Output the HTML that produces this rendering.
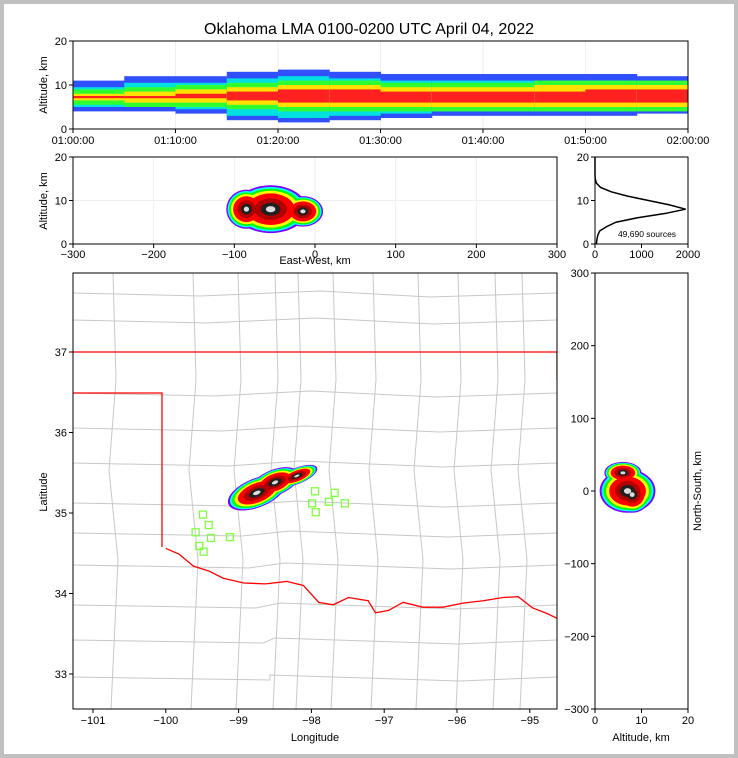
<!DOCTYPE html>
<html><head><meta charset="utf-8"><style>
html,body{margin:0;padding:0;background:#c0c0c0;}
#frame{position:absolute;left:4px;top:4px;width:730px;height:750px;background:#fff;}
svg{position:absolute;left:0;top:0;font-family:"Liberation Sans",sans-serif;}
</style></head><body>
<div id="frame"></div>
<svg id="s" width="738" height="758">
<defs>
<clipPath id="cTop"><rect x="73" y="41" width="615" height="88"/></clipPath>
<clipPath id="cEW"><rect x="73" y="157" width="484" height="87"/></clipPath>
<clipPath id="cMap"><rect x="73" y="273" width="484" height="436"/></clipPath>
<clipPath id="cNS"><rect x="595" y="273" width="93" height="436"/></clipPath>
</defs>
</svg>
<script>
// ---- data ----
const timeBinsMin=[0,5,10,15,20,25,30,35,40,45,50,55];
const altMinKm=[4,4,3.5,2,1.5,2,2.5,3,3,3,3,3.5];
const altMaxKm=[11,12,12,13,13.5,13,12.5,12.5,12.5,12.5,12.5,12];
const coreLoKm=[6.5,6,6,5.5,5,5,5,5,5,5,5,5];
const coreHiKm=[8,8.5,9,9.5,10,10,9.5,9.5,9.5,10,10,10];
const redLoKm=[7,7,7,6.5,6,6,6,6,6,6,6,6];
const redHiKm=[7.5,7.5,8,8.5,9,9,8.5,8.5,8.5,8.5,9,9];
const histAltKm=[0,1,2,3,4,5,6,7,8,9,10,11,12,13,14,15,16,17,18,19,20];
const histCounts=[30,40,60,100,250,450,900,1500,1950,1600,1150,700,350,120,30,5,0,0,0,0,0];
const stormLon=[-98.75,-98.5,-98.2];
const stormLat=[35.25,35.38,35.46];
const stormRxDeg=[0.42,0.35,0.3];
const stormRyDeg=[0.18,0.16,0.1];
const ewCenterKm=[-55,-85,-15];
const ewAltKm=[8,8,7.5];
const ewRxKm=[45,25,25];
const ewRyKm=[5.5,4.5,3.5];
const nsCenterKm=[0,-5,25];
const nsAltKm=[7,8,6];
const nsRxKm=[6,4,4];
const nsRyKm=[30,25,15];
const stnLon=[-99.49,-99.41,-99.59,-99.38,-99.54,-99.48,-99.12,-97.95,-97.68,-97.99,-97.76,-97.54,-97.94];
const stnLat=[34.98,34.85,34.76,34.69,34.59,34.52,34.70,35.27,35.25,35.12,35.14,35.12,35.01];
const borderLon=[-100,-99.82,-99.62,-99.41,-99.21,-98.93,-98.63,-98.34,-98.11,-97.9,-97.7,-97.49,-97.22,-97.12,-96.94,-96.74,-96.47,-96.19,-95.92,-95.64,-95.37,-95.16,-94.96,-94.76,-94.6];
const borderLat=[34.56,34.49,34.34,34.28,34.19,34.13,34.12,34.15,34.1,33.89,33.86,33.95,33.91,33.76,33.79,33.89,33.83,33.83,33.88,33.91,33.95,33.96,33.82,33.75,33.68];
const tickTimes=["01:00:00","01:10:00","01:20:00","01:30:00","01:40:00","01:50:00","02:00:00"];

// ---- scales ----
const tX=m=>73+m/60*615, topY=a=>129-a/20*88;
const ewX=k=>73+(k+300)/600*484, ewY=a=>244-a/20*87;
const hX=c=>595+c/2000*93, hY=a=>244-a/20*87;
const lonX=l=>93+(l+101)*72.8, latY=l=>352-(l-37)*80.5;
const nsX=a=>595+a/20*93, nsY=k=>273+(300-k)/600*436;
const S=document.getElementById('s');
const NS='http://www.w3.org/2000/svg';
function el(t,a,p){const e=document.createElementNS(NS,t);for(const k in a)e.setAttribute(k,a[k]);(p||S).appendChild(e);return e;}
function txt(x,y,s,a,p){const e=el('text',Object.assign({x,y,'font-size':11,fill:'#000'},a||{}),p);e.textContent=s;return e;}
const levels=['#7a00ff','#00ffff','#00ff00','#ffff00','#ff0000','#b00000','#202020','#dddddd'];
const scl=[1,0.93,0.86,0.77,0.66,0.45,0.27,0.13];

// title
let t=txt(369,34,'Oklahoma LMA 0100-0200 UTC April 04, 2022',{'font-size':16,'text-anchor':'middle'});


// ---- top panel ----
let g=el('g',{'clip-path':'url(#cTop)'});

for(let i=0;i<6;i++){el('line',{x1:tX(i*10+10),x2:tX(i*10+10),y1:41,y2:129,stroke:'#eee'},g);}
timeBinsMin.forEach((m,i)=>{
  const x=tX(m),w=tX(m+5)-x+0.5;
  const bands=[[altMinKm[i],altMaxKm[i],'#3050ff'],[altMinKm[i]+1,altMaxKm[i]-1.5,'#00e0e0'],[coreLoKm[i]-1,coreHiKm[i]+1,'#30ff30'],[coreLoKm[i],coreHiKm[i],'#ffe000'],[redLoKm[i],redHiKm[i],'#ff2020']];
  bands.forEach(b=>{const r=el('rect',{x,y:topY(b[1]),width:w,height:topY(b[0])-topY(b[1]),fill:b[2]},g);
    });
});
el('rect',{x:73,y:41,width:615,height:88,fill:'none',stroke:'#000'});
[0,10,20].forEach(v=>{el('line',{x1:69,x2:73,y1:topY(v),y2:topY(v),stroke:'#000'});txt(67,topY(v)+4,v,{'text-anchor':'end'});});
tickTimes.forEach((s,i)=>{el('line',{x1:tX(i*10),x2:tX(i*10),y1:129,y2:133,stroke:'#000'});txt(tX(i*10),144,s,{'text-anchor':'middle'});});
txt(47,85,'Altitude, km',{'text-anchor':'middle',transform:'rotate(-90 47 85)'});

// ---- EW panel ----
g=el('g',{'clip-path':'url(#cEW)'});

for(let k=-200;k<=200;k+=100)el('line',{x1:ewX(k),x2:ewX(k),y1:157,y2:244,stroke:'#eee'},g);
el('line',{x1:73,x2:557,y1:ewY(10),y2:ewY(10),stroke:'#eee'},g);
levels.forEach((col,j)=>{ewCenterKm.forEach((c,i)=>{const e=el('ellipse',{cx:ewX(c),cy:ewY(ewAltKm[i]),rx:ewRxKm[i]*0.807*scl[j],ry:ewRyKm[i]*4.35*scl[j],fill:col},g);});});
el('rect',{x:73,y:157,width:484,height:87,fill:'none',stroke:'#000'});
[0,10,20].forEach(v=>{el('line',{x1:69,x2:73,y1:ewY(v),y2:ewY(v),stroke:'#000'});txt(67,ewY(v)+4,v,{'text-anchor':'end'});});
for(let k=-300;k<=300;k+=100){el('line',{x1:ewX(k),x2:ewX(k),y1:244,y2:248,stroke:'#000'});txt(ewX(k),258,k<0?'\u2212'+(-k):k,{'text-anchor':'middle'});}
txt(315,264,'East-West, km',{'text-anchor':'middle'});
txt(47,201,'Altitude, km',{'text-anchor':'middle',transform:'rotate(-90 47 201)'});

// ---- histogram ----
g=el('g');
el('polyline',{points:histAltKm.map((a,i)=>hX(histCounts[i])+','+hY(a)).join(' '),fill:'none',stroke:'#000','stroke-width':1.5},g);
el('rect',{x:595,y:157,width:93,height:87,fill:'none',stroke:'#000'});
[0,10,20].forEach(v=>{el('line',{x1:591,x2:595,y1:hY(v),y2:hY(v),stroke:'#000'});txt(589,hY(v)+4,v,{'text-anchor':'end'});});
[0,1000,2000].forEach(v=>{el('line',{x1:hX(v),x2:hX(v),y1:244,y2:248,stroke:'#000'});txt(hX(v),258,v,{'text-anchor':'middle'});});
txt(647,237,'49,690 sources',{'text-anchor':'middle','font-size':8.5});

// ---- map ----
g=el('g',{'clip-path':'url(#cMap)'});

const hy=[293,320,393,428,463,503,533,565,605,640,677];
hy.forEach((y,i)=>el('path',{d:`M73 ${y} L${200+i*7} ${y+3} L${320-i*5} ${y-2} L${430+i*3} ${y+4} L557 ${y}`,stroke:'#c8c8c8',fill:'none'},g));
[113,193,238,275,298,333,373,418,458,495,522].forEach((x,i)=>el('path',{d:`M${x} 273 L${x+3} 380 L${x-4} 470 L${x+5} 560 L${x-2} 709`,stroke:'#c8c8c8',fill:'none'},g));
el('path',{d:'M73 352 L557 352 M557 352 L557 380 M73 393 L162 393 L162 547',stroke:'#ff0000',fill:'none','stroke-width':1.3},g);
el('polyline',{points:borderLon.map((l,i)=>lonX(l)+','+latY(borderLat[i])).join(' '),stroke:'#ff0000',fill:'none','stroke-width':1.3},g);
levels.forEach((col,j)=>{stormLon.forEach((l,i)=>{const e=el('ellipse',{cx:lonX(l),cy:latY(stormLat[i]),rx:stormRxDeg[i]*72.8*scl[j],ry:stormRyDeg[i]*80.5*scl[j],fill:col,transform:`rotate(-22 ${lonX(l)} ${latY(stormLat[i])})`},g);});});
stnLon.forEach((l,i)=>{const r=el('rect',{x:lonX(l)-3.5,y:latY(stnLat[i])-3.5,width:7,height:7,fill:'none',stroke:'#80ff40','stroke-width':1.3},g);});
el('rect',{x:73,y:273,width:484,height:436,fill:'none',stroke:'#000'});
[-101,-100,-99,-98,-97,-96,-95].forEach(v=>{el('line',{x1:lonX(v),x2:lonX(v),y1:709,y2:713,stroke:'#000'});txt(lonX(v),724,'\u2212'+(-v),{'text-anchor':'middle'});});
[33,34,35,36,37].forEach(v=>{el('line',{x1:69,x2:73,y1:latY(v),y2:latY(v),stroke:'#000'});txt(67,latY(v)+4,v,{'text-anchor':'end'});});
txt(315,741,'Longitude',{'text-anchor':'middle'});
txt(47,492,'Latitude',{'text-anchor':'middle',transform:'rotate(-90 47 492)'});

// ---- NS panel ----
g=el('g',{'clip-path':'url(#cNS)'});

levels.forEach((col,j)=>{nsCenterKm.forEach((c,i)=>{const e=el('ellipse',{cx:nsX(nsAltKm[i]),cy:nsY(c),rx:nsRxKm[i]*4.65*scl[j],ry:nsRyKm[i]*0.727*scl[j],fill:col},g);});});
el('rect',{x:595,y:273,width:93,height:436,fill:'none',stroke:'#000'});
[300,200,100,0,-100,-200,-300].forEach(v=>{el('line',{x1:591,x2:595,y1:nsY(v),y2:nsY(v),stroke:'#000'});txt(589,nsY(v)+4,v<0?'\u2212'+(-v):v,{'text-anchor':'end'});});
[0,10,20].forEach(v=>{el('line',{x1:nsX(v),x2:nsX(v),y1:709,y2:713,stroke:'#000'});txt(nsX(v),724,v,{'text-anchor':'middle'});});
txt(641,741,'Altitude, km',{'text-anchor':'middle'});
txt(701,491,'North-South, km',{'text-anchor':'middle',transform:'rotate(-90 701 491)'});
</script>
</body></html>
